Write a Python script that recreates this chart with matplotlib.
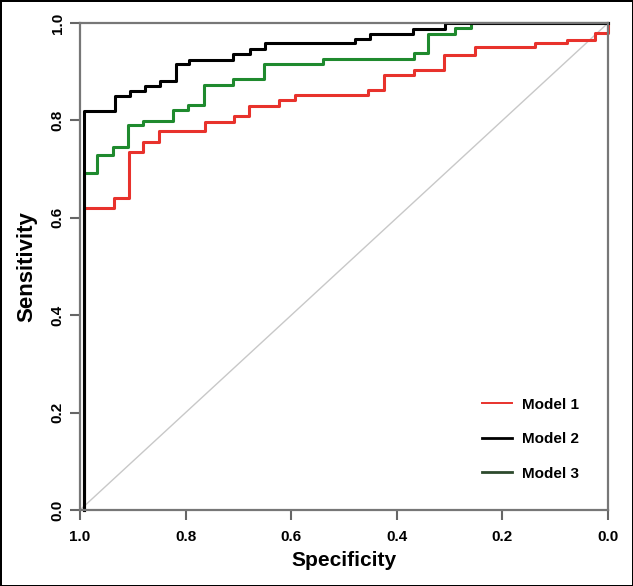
import matplotlib.pyplot as plt
from matplotlib.lines import Line2D

# step points (specificity, sensitivity)
model1_spec = [0.992, 0.992, 0.936, 0.908, 0.880, 0.851, 0.763, 0.708, 0.680, 0.624, 0.592,
               0.454, 0.424, 0.367, 0.310, 0.252, 0.138, 0.078, 0.025, 0.0, 0.0]
model1_sens = [0.0, 0.621, 0.641, 0.736, 0.756, 0.778, 0.797, 0.809, 0.830, 0.842, 0.852,
               0.862, 0.894, 0.903, 0.935, 0.950, 0.958, 0.966, 0.979, 0.979, 1.0]

model2_spec = [0.992, 0.992, 0.933, 0.905, 0.877, 0.848, 0.819, 0.793, 0.710, 0.678, 0.650,
               0.480, 0.451, 0.369, 0.309, 0.0]
model2_sens = [0.0, 0.819, 0.851, 0.860, 0.871, 0.881, 0.915, 0.925, 0.936, 0.947, 0.959,
               0.968, 0.977, 0.988, 1.0, 1.0]

model3_spec = [0.992, 0.992, 0.967, 0.937, 0.909, 0.880, 0.823, 0.795, 0.766, 0.710, 0.652,
               0.539, 0.367, 0.340, 0.289, 0.259, 0.0]
model3_sens = [0.0, 0.693, 0.728, 0.745, 0.791, 0.799, 0.821, 0.832, 0.872, 0.886, 0.915,
               0.927, 0.938, 0.977, 0.990, 1.0, 1.0]

labels = ['Model 1', 'Model 2', 'Model 3']
ticks = [1.0, 0.8, 0.6, 0.4, 0.2, 0.0]

plt.rcParams['font.family'] = ['Liberation Sans', 'DejaVu Sans']

fig = plt.figure(figsize=(6.33, 5.86), dpi=100)
fig.patch.set_edgecolor('black')
fig.patch.set_linewidth(2)
ax = fig.add_axes([0.1264, 0.1297, 0.8341, 0.831])

# chance line
ax.plot([1, 0], [0, 1], color='#c8c8c8', lw=1)

ax.plot(model1_spec, model1_sens, drawstyle='steps-post', color='#e8322c', lw=2.2, clip_on=False)
ax.plot(model3_spec, model3_sens, drawstyle='steps-post', color='#1f8a2e', lw=2.2, clip_on=False)
ax.plot(model2_spec, model2_sens, drawstyle='steps-post', color='black', lw=2.2, clip_on=False)

ax.set_xlim(1, 0)
ax.set_ylim(0, 1)
ax.set_xticks(ticks)
ax.set_yticks(ticks)
ax.set_xticklabels(['%.1f' % t for t in ticks], fontsize=11, fontweight='bold')
ax.set_yticklabels(['%.1f' % t for t in ticks], fontsize=11, fontweight='bold',
                   rotation=90, va='center')
ax.tick_params(length=7, width=1.5, color='#666666')
ax.tick_params(axis='x', pad=7.5)
ax.tick_params(axis='y', pad=4)

for s in ax.spines.values():
    s.set_color('#777777')
    s.set_linewidth(1.6)

ax.set_xlabel('Specificity', fontsize=15, fontweight='bold', labelpad=5)
ax.set_ylabel('Sensitivity', fontsize=16, fontweight='bold', labelpad=10)

handles = [Line2D([], [], color='#e8322c', lw=1.4),
           Line2D([], [], color='black', lw=2),
           Line2D([], [], color='#2d4a2d', lw=2)]
ax.legend(handles, labels, loc='upper left', bbox_to_anchor=(0.761, 0.231), frameon=False,
          prop={'weight': 'bold', 'size': 11}, handlelength=2.0, handletextpad=0.6,
          labelspacing=1.35, borderpad=0, borderaxespad=0)

fig.savefig('out.png', dpi=100)
